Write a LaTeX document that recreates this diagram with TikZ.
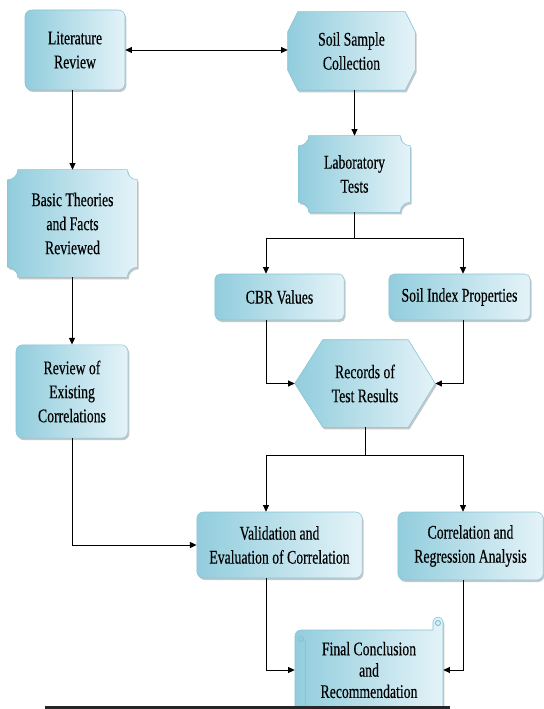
\documentclass[tikz,border=0pt]{standalone}
\usepackage{fontspec}
\setmainfont{Liberation Serif}[FakeStretch=0.71,FakeBold=0.35]
\usetikzlibrary{arrows.meta,calc,shadows,backgrounds}
\definecolor{boxdark}{RGB}{146,205,221}
\definecolor{boxlight}{RGB}{228,243,248}
\definecolor{boxedge}{RGB}{132,196,213}
\newcommand\boxfont{\fontsize{14.5pt}{18pt}\selectfont}
\newcommand\plaquepath[2]{($(#1.north west)+(0,-#2)$) arc[start angle=270,end angle=360,radius=#2]
  -- ($(#1.north east)+(-#2,0)$) arc[start angle=180,end angle=270,radius=#2]
  -- ($(#1.south east)+(0,#2)$) arc[start angle=90,end angle=180,radius=#2]
  -- ($(#1.south west)+(#2,0)$) arc[start angle=0,end angle=90,radius=#2] -- cycle}
\tikzset{
  boxfill/.style={draw=boxedge, line width=0.4pt, left color=boxdark, right color=boxlight,
    drop shadow={shadow xshift=1pt, shadow yshift=-1.5pt, fill=black, opacity=0.22}},
  roundbox/.style={boxfill, rounded corners=5pt, align=center, font=\boxfont, inner sep=0pt},
  plainbox/.style={align=center, font=\boxfont, inner sep=0pt},
  line/.style={line width=0.7pt},
  arr/.style={line, -{Triangle[length=5pt,width=4.5pt]}},
  dblarr/.style={line, {Triangle[length=5pt,width=4.5pt]}-{Triangle[length=5pt,width=4.5pt]}},
}
\begin{document}
\begin{tikzpicture}[x=0.75pt,y=0.75pt]
\useasboundingbox (0,0) rectangle (543,-709);

\node[roundbox, minimum width=75pt, minimum height=60pt] (lit) at (75,-50) {Literature\\Review};
\node[plainbox, minimum width=95.25pt, minimum height=58.5pt] (soil) at (351.5,-51) {Soil Sample\\Collection};
\node[plainbox, minimum width=83.25pt, minimum height=57pt] (lab) at (354.5,-174) {Laboratory\\Tests};
\node[plainbox, minimum width=96.75pt, minimum height=80.25pt] (basic) at (72.5,-223.5) {Basic Theories\\and Facts\\Reviewed};
\node[roundbox, minimum width=84pt, minimum height=70pt] (review) at (72,-391.5) {Review of\\Existing\\Correlations};
\node[roundbox, rounded corners=4pt, minimum width=97pt, minimum height=34.5pt] (cbr) at (279.5,-297) {CBR Values};
\node[roundbox, rounded corners=4pt, minimum width=106pt, minimum height=34.5pt] (sip) at (459.5,-297) {Soil Index Properties};
\node[plainbox, minimum width=105pt, minimum height=65.25pt] (rec) at (365,-383.5) {Records of\\Test Results};
\node[roundbox, minimum width=124pt, minimum height=49.5pt] (val) at (279.5,-545) {Validation and\\Evaluation of Correlation};
\node[roundbox, minimum width=109pt, minimum height=51pt] (cor) at (470.5,-546) {Correlation and\\Regression Analysis};
\node[plainbox, minimum width=111pt, minimum height=57pt, font=\fontsize{14.5pt}{16pt}\selectfont] (final) at (369,-670) {Final Conclusion\\and\\Recommendation};

\begin{scope}[on background layer]
\path[boxfill] ($(soil.north west)+(10,0)$) -- ($(soil.north east)+(-10,0)$) -- ($(soil.north east)+(0,-20)$)
  -- ($(soil.south east)+(0,20)$) -- ($(soil.south east)+(-10,0)$) -- ($(soil.south west)+(10,0)$)
  -- ($(soil.south west)+(0,20)$) -- ($(soil.north west)+(0,-20)$) -- cycle;
\path[boxfill] \plaquepath{lab}{10};
\path[boxfill] \plaquepath{basic}{10};
\path[boxfill] (rec.west) -- ($(rec.north west)+(28,0)$) -- ($(rec.north east)+(-27,0)$) -- (rec.east)
  -- ($(rec.south east)+(-27,0)$) -- ($(rec.south west)+(28,0)$) -- cycle;
\path[boxfill] (295,-709) -- (295,-636) arc[start angle=180,end angle=90,radius=6] -- (433,-630)
  -- (433,-622) arc[start angle=180,end angle=0,radius=5] -- (443,-709) -- cycle;
\draw[boxedge, line width=0.8pt] (301,-639) circle[radius=2.5];
\draw[boxedge, line width=0.8pt] (438,-623) circle[radius=2.5];
\draw[boxedge, line width=0.5pt] (305,-640) -- (305,-709);
\end{scope}

\coordinate (laneL) at (266,-238);
\coordinate (laneR) at (463,-238);
\coordinate (forkL) at (266,-455);
\coordinate (forkR) at (463,-455);

\draw[dblarr] (lit.east) -- (lit.east -| soil.west);
\draw[arr] (lab.north |- soil.south) -- (lab.north);
\draw[arr] (lit.south -| basic.north) -- (basic.north);
\draw[arr] (review.north |- basic.south) -- (review.north);
\draw[line] (lab.south) -- (lab.south |- laneL);
\draw[line] (laneL) -- (laneR);
\draw[arr] (laneL) -- (laneL |- cbr.north);
\draw[arr] (laneR) -- (laneR |- sip.north);
\draw[arr] (laneL |- cbr.south) |- (rec.west);
\draw[arr] (laneR |- sip.south) |- (rec.east);
\draw[line] (rec.south) -- (rec.south |- forkL);
\draw[line] (forkL) -- (forkR);
\draw[arr] (forkL) -- (forkL |- val.north);
\draw[arr] (forkR) -- (forkR |- cor.north);
\draw[arr] (review.south) |- (val.west);
\draw[arr] (forkL |- val.south) |- (final.west);
\draw[arr] (forkR |- cor.south) |- (final.east);

\draw[line width=2.2pt, black!85] (45,-707.5) -- (450,-707.5);
\end{tikzpicture}
\end{document}
